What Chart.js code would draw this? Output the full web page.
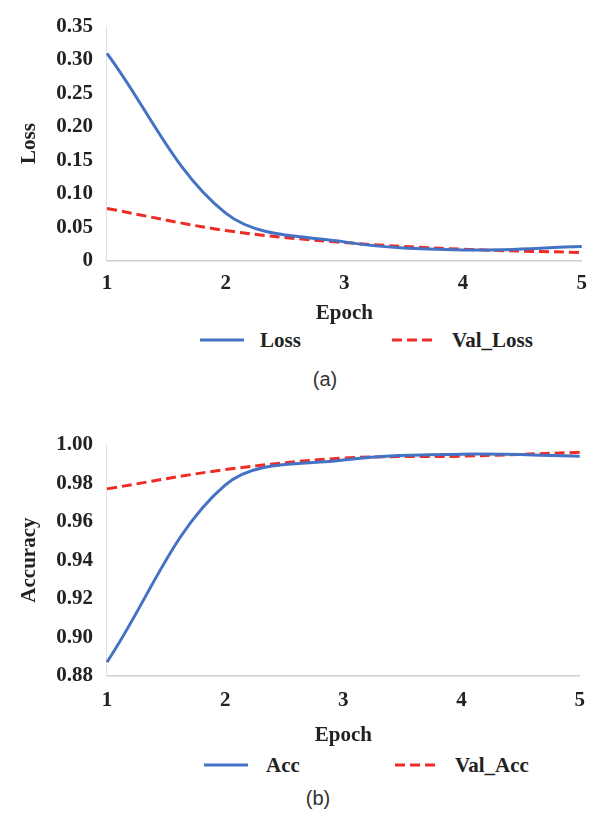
<!DOCTYPE html>
<html>
<head>
<meta charset="utf-8">
<script src="https://cdn.jsdelivr.net/npm/chart.js@4.4.0/dist/chart.umd.min.js"></script>
<style>
  body { margin: 0; background: #fff; width: 597px; height: 818px; position: relative; overflow: hidden; }
  .box { position: absolute; left: 0; width: 597px; }
  .cap { position: absolute; text-align: center; font-family: "Liberation Sans", Arial, sans-serif; font-size: 20px; color: #333; }
  .leg { position: absolute; font-family: "Liberation Serif", "Times New Roman", serif; font-weight: bold; font-size: 21px; color: #222; }
  .leg svg { position: absolute; }
  .leg span { position: absolute; white-space: nowrap; }
</style>
</head>
<body>
<div class="box" style="top:0; height:326px;"><canvas id="lossChart"></canvas></div>
<div class="leg" id="lossLegend" style="top:328px; left:0;"></div>
<div class="cap" style="top:368px; left:300px; width:50px;">(a)</div>
<div class="box" style="top:418px; height:330px;"><canvas id="accChart"></canvas></div>
<div class="leg" id="accLegend" style="top:753px; left:0;"></div>
<div class="cap" style="top:787px; left:293px; width:50px;">(b)</div>
<script>
const epochs = [1, 2, 3, 4, 5];
const loss = [0.310, 0.071, 0.028, 0.016, 0.021];
const valLoss = [0.078, 0.045, 0.027, 0.017, 0.012];
const acc = [0.887, 0.979, 0.992, 0.995, 0.994];
const valAcc = [0.977, 0.987, 0.993, 0.994, 0.996];

const serif = '"Liberation Serif", "Times New Roman", serif';
const blue = '#4472C4';
const red = '#EE2B25';

function makeChart(id, yTitle, names, series, yMin, yMax, step, fmt, tickPad, titlePad) {
  return new Chart(document.getElementById(id), {
    type: 'line',
    data: {
      labels: epochs,
      datasets: [{
        label: names[0],
        data: series[0],
        borderColor: blue,
        backgroundColor: blue,
        borderWidth: 3,
        pointRadius: 0,
        tension: 0.35,
      }, {
        label: names[1],
        data: series[1],
        borderColor: red,
        backgroundColor: red,
        borderWidth: 3,
        borderDash: [10, 5],
        pointRadius: 0,
        tension: 0.35,
      }]
    },
    options: {
      animation: false,
      responsive: true,
      maintainAspectRatio: false,
      layout: { padding: { left: 17, right: 1, top: 19, bottom: 0 } },
      plugins: {
        tooltip: { enabled: false },
        legend: { display: false }
      },
      scales: {
        x: {
          type: 'category',
          offset: false,
          grid: { display: false, drawTicks: false },
          border: { display: true, color: '#d0d0d0', width: 1.5 },
          ticks: { color: '#222', padding: tickPad, font: { family: serif, size: 21, weight: 'bold' } },
          title: { display: true, text: 'Epoch', color: '#222', padding: { top: titlePad, bottom: 0 }, font: { family: serif, size: 21, weight: 'bold' } }
        },
        y: {
          min: yMin,
          max: yMax,
          grid: { display: false, drawTicks: false },
          border: { display: true, color: '#e2e2e2', width: 1 },
          ticks: {
            stepSize: step,
            autoSkip: false,
            color: '#222',
            padding: 14,
            font: { family: serif, size: 21, weight: 'bold' },
            callback: fmt
          },
          title: { display: true, text: yTitle, color: '#222', padding: { top: 0, bottom: 0 }, font: { family: serif, size: 21, weight: 'bold' } }
        }
      }
    }
  });
}

// legend drawn from the chart's datasets
function buildLegend(chart, el, xs) {
  chart.data.datasets.forEach((ds, i) => {
    const [lineX, textX] = xs[i];
    const dash = ds.borderDash ? ds.borderDash.join(',') : 'none';
    el.insertAdjacentHTML('beforeend',
      `<svg style="left:${lineX}px; top:4px;" width="44" height="16">
         <line x1="0" y1="8" x2="44" y2="8" stroke="${ds.borderColor}" stroke-width="3" stroke-dasharray="${dash}"/>
       </svg>
       <span style="left:${textX}px; top:0;">${ds.label}</span>`);
  });
}

const lossChart = makeChart('lossChart', 'Loss', ['Loss', 'Val_Loss'], [loss, valLoss], 0, 0.35, 0.05,
  v => (Math.abs(v) < 1e-9 ? '0' : v.toFixed(2)), 10, -5);
const accChart = makeChart('accChart', 'Accuracy', ['Acc', 'Val_Acc'], [acc, valAcc], 0.88, 1.0, 0.02,
  v => v.toFixed(2), 12, -2);

buildLegend(lossChart, document.getElementById('lossLegend'), [[200, 260], [392, 452]]);
buildLegend(accChart, document.getElementById('accLegend'), [[204, 266], [395, 455]]);
</script>
</body>
</html>
